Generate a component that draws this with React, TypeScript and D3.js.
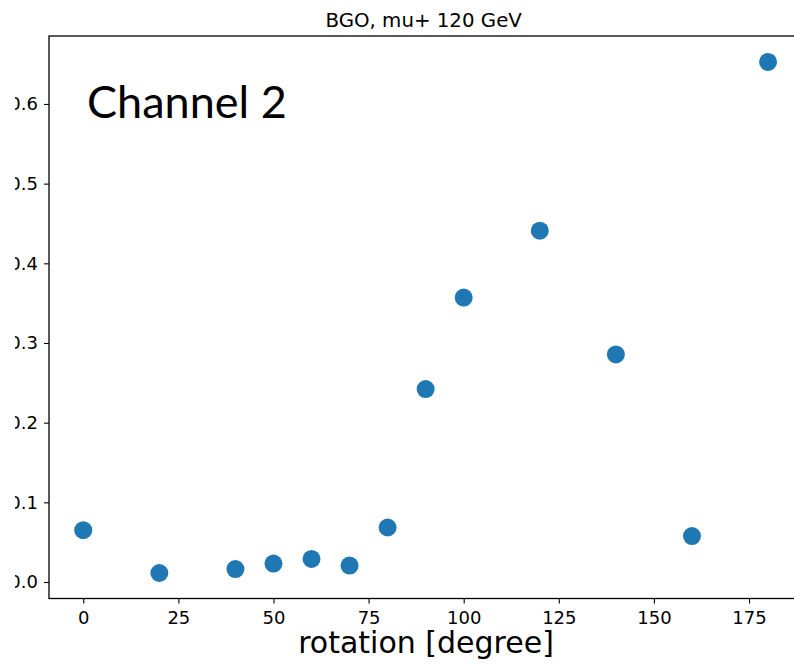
import React, { useEffect, useRef } from 'react';
import * as d3 from 'd3';

// rotation angle [degree] and the measured value for channel 2
const rotations = [0, 20, 40, 50, 60, 70, 80, 90, 100, 120, 140, 160, 180];
const values = [0.065, 0.0113, 0.0163, 0.0232, 0.0289, 0.0207, 0.0684, 0.2422, 0.357, 0.441, 0.2856, 0.0577, 0.6527];
const xTicks = [0, 25, 50, 75, 100, 125, 150, 175];
const yTicks = [0.0, 0.1, 0.2, 0.3, 0.4, 0.5, 0.6];

const App = () => {
  const chartRef = useRef<SVGSVGElement>(null);

  useEffect(() => {
    const width = 794;
    const height = 664;
    const marginLeft = 49;
    const plotRight = 802.3; // right spine falls just outside the picture
    const marginTop = 36;
    const plotBottom = 598.5;

    const svg = d3.select(chartRef.current);
    svg.selectAll('*').remove();
    svg.attr('width', width).attr('height', height);

    // matplotlib-style 5% margins around the data range
    const x = d3.scaleLinear().domain([-9, 189]).range([marginLeft, plotRight]);
    const y = d3.scaleLinear().domain([-0.0207, 0.6853]).range([plotBottom, marginTop]);

    const font = 'DejaVu Sans, sans-serif';

    // points
    svg.append('g')
      .selectAll('circle')
      .data(rotations.map((r, i) => ({ r, v: values[i] })))
      .join('circle')
        .attr('cx', d => x(d.r))
        .attr('cy', d => y(d.v))
        .attr('r', 9)
        .attr('fill', '#1f77b4');

    // x axis
    const xAxis = svg.append('g')
      .attr('transform', `translate(0,${plotBottom})`)
      .call(d3.axisBottom(x).tickValues(xTicks).tickSize(5).tickPadding(7.5).tickSizeOuter(0));
    xAxis.select('.domain').remove();
    xAxis.selectAll('text').attr('font-family', font).attr('font-size', 18).attr('fill', '#000');
    xAxis.selectAll('line').attr('stroke', '#000').attr('stroke-width', 1.1);

    // y axis, labels are cut off at the left edge like in the source image
    svg.append('defs').append('clipPath').attr('id', 'yclip')
      .append('rect').attr('x', 15).attr('y', 0).attr('width', 60).attr('height', height);
    const yAxis = svg.append('g').attr('clip-path', 'url(#yclip)')
      .append('g')
      .attr('transform', `translate(${marginLeft},0)`)
      .call(d3.axisLeft(y).tickValues(yTicks).tickFormat(d3.format('.1f')).tickSize(5).tickPadding(6).tickSizeOuter(0));
    yAxis.select('.domain').remove();
    yAxis.selectAll('text').attr('font-family', font).attr('font-size', 18).attr('fill', '#000');
    yAxis.selectAll('line').attr('stroke', '#000').attr('stroke-width', 1.1);

    // frame
    svg.append('rect')
      .attr('x', marginLeft)
      .attr('y', marginTop)
      .attr('width', plotRight - marginLeft)
      .attr('height', plotBottom - marginTop)
      .attr('fill', 'none')
      .attr('stroke', '#000')
      .attr('stroke-width', 1.3);

    // title
    svg.append('text')
      .attr('x', (marginLeft + plotRight) / 2 - 2)
      .attr('y', 27)
      .attr('text-anchor', 'middle')
      .attr('font-family', font)
      .attr('font-size', 19.8)
      .text('BGO, mu+ 120 GeV');

    // x label
    svg.append('text')
      .attr('x', 426)
      .attr('y', 653)
      .attr('text-anchor', 'middle')
      .attr('font-family', font)
      .attr('font-size', 30)
      .text('rotation [degree]');

    // annotation
    svg.append('text')
      .attr('x', 87)
      .attr('y', 117.5)
      .attr('font-family', 'Lato, sans-serif')
      .attr('font-size', 45)
      .text('Channel 2');
  }, []);

  return (
    <div>
      <svg ref={chartRef} style={{ position: 'absolute', left: 0, top: 0 }}></svg>
    </div>
  );
};

export default App;
